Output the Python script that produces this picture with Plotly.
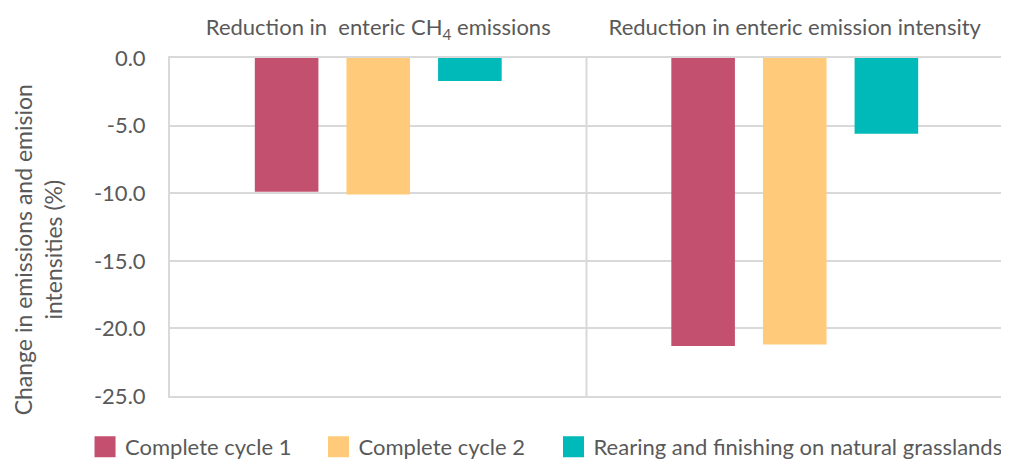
import plotly.graph_objects as go

categories = ["Reduction in  enteric CH<sub>4</sub> emissions", "Reduction in enteric emission intensity"]
series_names = ["Complete cycle 1", "Complete cycle 2", "Rearing and finishing on natural grasslands"]
cc1 = [-9.9, -21.3]
cc2 = [-10.1, -21.2]
rearing = [-1.7, -5.6]
colors = ["#C45070", "#FFCB7A", "#00B9B9"]
yticks = [0, -5, -10, -15, -20, -25]
yticklabels = ["0.0", "-5.0", "-10.0", "-15.0", "-20.0", "-25.0"]
y_title = "Change in emissions and emision<br>intensities (%)"

font_family = "Lato, 'Open Sans', sans-serif"
grey = "#595959"
grid = "#D9D9D9"

legend_ids = ["legend", "legend2", "legend3"]
legend_x = [-0.102, 0.1783, 0.4604]

fig = go.Figure()
for name, vals, col in zip(series_names, [cc1, cc2, rearing], colors):
    fig.add_trace(go.Bar(x=[0, 1], y=vals, name=name, showlegend=False,
                         marker=dict(color=col, line=dict(width=0))))
# legend entries with larger square swatches
for name, col, lid in zip(series_names, colors, legend_ids):
    fig.add_trace(go.Scatter(x=[None], y=[None], mode="markers", name=name, legend=lid,
                             marker=dict(symbol="square", size=16, color=col,
                                         line=dict(color=col, width=5))))

fig.add_shape(type="line", xref="x", yref="paper", x0=0.5, x1=0.5, y0=0, y1=1,
              line=dict(color=grid, width=2), layer="below")

fig.add_annotation(text=y_title, xref="paper", yref="paper", x=-0.158, y=0.432,
                   xanchor="center", yanchor="middle", textangle=-90, showarrow=False,
                   font=dict(size=23, color=grey))

legend_common = dict(orientation="h", xanchor="left", y=-0.151, yanchor="middle",
                     font=dict(size=22, color=grey), itemwidth=30, itemsizing="trace",
                     bgcolor="rgba(0,0,0,0)")

fig.update_layout(
    width=1009, height=459,
    margin=dict(l=162, r=14, t=50, b=71, autoexpand=False),
    paper_bgcolor="white", plot_bgcolor="white",
    barmode="group", bargap=0.34, bargroupgap=0.306,
    font=dict(family=font_family, size=22, color=grey),
    showlegend=True,
    legend=dict(x=legend_x[0], **legend_common),
    legend2=dict(x=legend_x[1], **legend_common),
    legend3=dict(x=legend_x[2], **legend_common),
    xaxis=dict(side="top", tickmode="array", tickvals=[0, 1], ticktext=categories,
               range=[-0.5, 1.5], showgrid=False, zeroline=False, automargin=False,
               showline=True, mirror=True, linecolor=grid, linewidth=2,
               ticks="", ticklabelstandoff=12, tickfont=dict(size=22, color=grey)),
    yaxis=dict(range=[-25, 0], tickmode="array", tickvals=yticks, ticktext=yticklabels,
               showgrid=True, gridcolor=grid, gridwidth=2, zeroline=False, automargin=False,
               showline=True, mirror=True, linecolor=grid, linewidth=2,
               ticks="", ticklabelstandoff=18, tickfont=dict(size=22, color=grey)),
)

fig.write_html("out.html")
